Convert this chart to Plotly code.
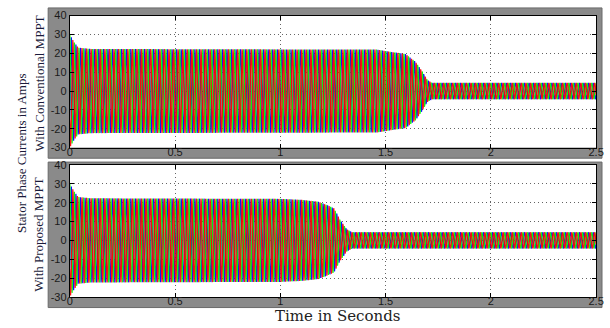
import numpy as np
import plotly.graph_objects as go

# ---------------- data ----------------
x_tick_vals = [0, 0.5, 1, 1.5, 2, 2.5]
x_tick_text = ["0", "0.5", "1", "1.5", "2", "2.5"]
y_tick_vals = [-30, -20, -10, 0, 10, 20, 30, 40]
y_tick_text = ["-30", "-20", "-10", "0", "10", "20", "30", "40"]

supply_freq_hz = 46
sim_end_s = 2.5
phase_colors = ["#0000FF", "#00FF00", "#FF0000"]
phase_shift_deg = [-120, 0, 120]

# amplitude envelope of stator currents (A), conventional MPPT
env_t_conv = [0.0, 0.02, 0.04, 0.10, 1.30, 1.455, 1.595, 1.642, 1.674, 1.698, 1.72, 2.5]
env_a_conv = [30.0, 26.0, 23.0, 22.3, 22.0, 22.0, 19.6, 15.5, 10.4, 5.8, 4.3, 4.3]
# amplitude envelope of stator currents (A), proposed MPPT
env_t_prop = [0.0, 0.02, 0.04, 0.10, 1.00, 1.10, 1.18, 1.222, 1.255, 1.283, 1.315, 1.34, 2.5]
env_a_prop = [30.0, 26.0, 23.0, 22.3, 22.0, 21.5, 20.5, 18.7, 17.0, 11.0, 5.9, 4.3, 4.3]

panel_titles = ["With Conventional MPPT", "With Proposed MPPT"]
common_title = "Stator Phase Currents in Amps"
x_title = "Time in Seconds"

# ---------------- figure ----------------
W, H = 610, 328
t = np.linspace(0, sim_end_s, int(sim_end_s * supply_freq_hz * 48) + 1)

fig = go.Figure()

def px_x(p):
    return p / W

def px_y(p):
    return 1 - p / H

xdom = [px_x(68), px_x(604)]
top_dom = [px_y(147), px_y(10)]
bot_dom = [px_y(302), px_y(165)]

panels = [("x", "y", env_t_conv, env_a_conv), ("x2", "y2", env_t_prop, env_a_prop)]
for xa, ya, et, ea in panels:
    amp = np.interp(t, et, ea)
    for col, ph in zip(phase_colors, phase_shift_deg):
        i = amp * np.cos(2 * np.pi * supply_freq_hz * t + np.deg2rad(ph))
        fig.add_trace(go.Scatter(x=t, y=i, mode="lines", xaxis=xa, yaxis=ya,
                                 line=dict(color=col, width=1.25), opacity=0.93,
                                 showlegend=False, hoverinfo="skip"))

axis_common = dict(showline=True, linecolor="#000", linewidth=1, mirror="ticks",
                   ticks="inside", ticklen=4, tickcolor="#000",
                   showgrid=True, gridcolor="#666", griddash="1px,3px", gridwidth=1,
                   zeroline=False, ticklabeloverflow="allow",
                   tickfont=dict(family="Liberation Sans, Arial", size=11, color="#1a1a1a"))
x_extra = dict(ticklabelstandoff=-6)

fig.update_layout(
    width=W, height=H,
    margin=dict(l=0, r=0, t=0, b=0),
    paper_bgcolor="#FFFFFF",
    plot_bgcolor="#FFFFFF",
    showlegend=False,
    xaxis=dict(domain=xdom, range=[0, 2.5], tickvals=x_tick_vals, ticktext=x_tick_text,
               anchor="y", **axis_common, **x_extra),
    yaxis=dict(domain=top_dom, range=[-30, 40], tickvals=y_tick_vals, ticktext=y_tick_text,
               anchor="x", **axis_common),
    xaxis2=dict(domain=xdom, range=[0, 2.5], tickvals=x_tick_vals, ticktext=x_tick_text,
                anchor="y2", **axis_common, **x_extra),
    yaxis2=dict(domain=bot_dom, range=[-30, 40], tickvals=y_tick_vals, ticktext=y_tick_text,
                anchor="x2", **axis_common),
)

shapes = []
for y0, y1 in [(158, 2), (313, 162)]:
    shapes.append(dict(type="rect", xref="paper", yref="paper", layer="below",
                       x0=px_x(46), x1=1.0, y0=px_y(y0), y1=px_y(y1),
                       fillcolor="#8A8A8A", line=dict(color="#6a6a6a", width=1)))
for dom in [top_dom, bot_dom]:
    shapes.append(dict(type="rect", xref="paper", yref="paper", layer="below",
                       x0=xdom[0], x1=xdom[1], y0=dom[0], y1=dom[1],
                       fillcolor="#FFFFFF", line=dict(width=0)))
fig.update_layout(shapes=shapes)

serif = "Liberation Serif, Times New Roman, serif"
annotations = [
    dict(text=common_title, x=px_x(19), y=px_y(153), xref="paper", yref="paper",
         textangle=-90, showarrow=False, font=dict(family=serif, size=13, color="#1a1a3a"),
         xanchor="center", yanchor="middle"),
    dict(text=panel_titles[0], x=px_x(37), y=px_y(80), xref="paper", yref="paper",
         textangle=-90, showarrow=False, font=dict(family=serif, size=13, color="#1a1a3a"),
         xanchor="center", yanchor="middle"),
    dict(text=panel_titles[1], x=px_x(36), y=px_y(237), xref="paper", yref="paper",
         textangle=-90, showarrow=False, font=dict(family=serif, size=13, color="#1a1a3a"),
         xanchor="center", yanchor="middle"),
    dict(text=x_title, x=px_x(341), y=px_y(322), xref="paper", yref="paper",
         showarrow=False, font=dict(family="DejaVu Serif, serif", size=15, color="#222"),
         xanchor="center", yanchor="middle", borderpad=0),
]
fig.update_layout(annotations=annotations)

fig.write_html("out.html")
